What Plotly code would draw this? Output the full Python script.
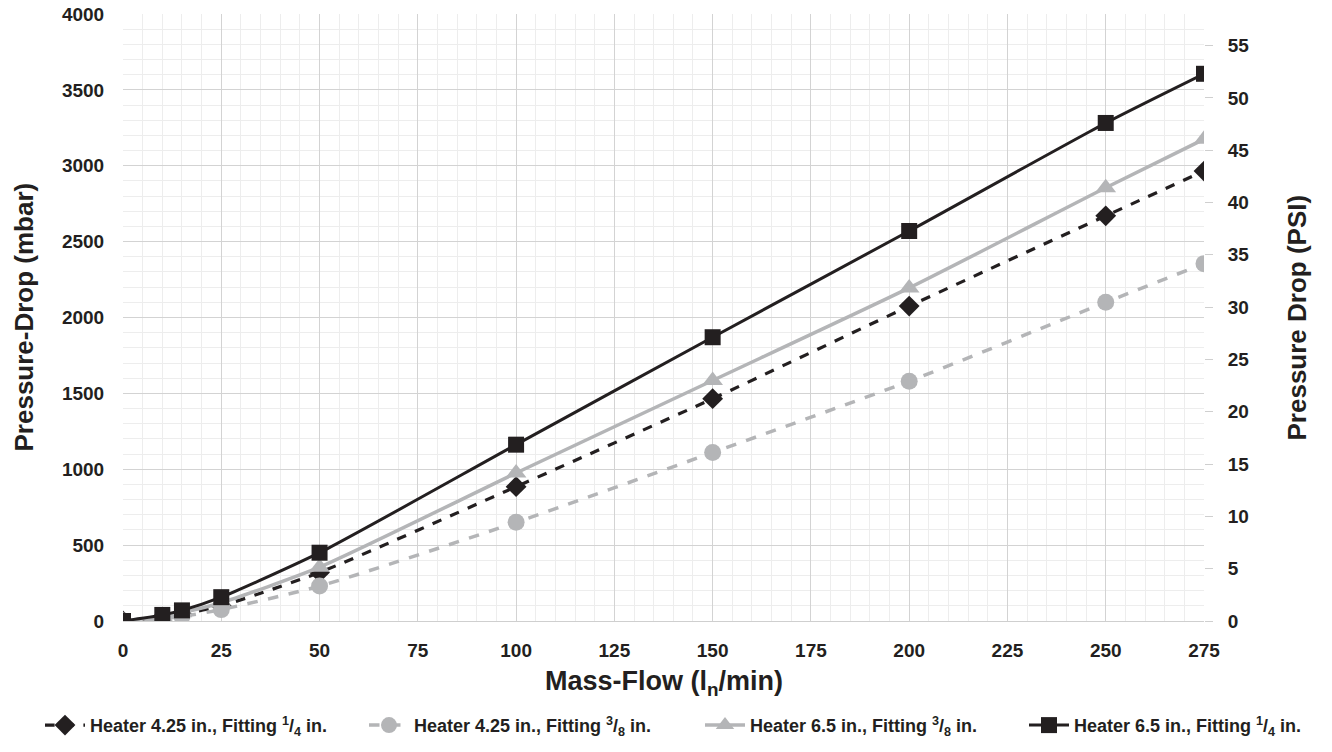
import plotly.graph_objects as go

mass_flow = [0, 10, 15, 25, 50, 100, 150, 200, 250, 275]
h425_f14 = [0, 25, 45, 100, 320, 885, 1465, 2075, 2670, 2965]
h425_f38 = [0, 15, 30, 75, 230, 650, 1110, 1580, 2100, 2355]
h65_f38 = [0, 30, 55, 120, 355, 975, 1585, 2195, 2855, 3175]
h65_f14 = [0, 40, 70, 157, 450, 1162, 1870, 2570, 3282, 3606]

names = [
    "Heater 4.25 in., Fitting <sup>1</sup>/<sub>4</sub> in.",
    "Heater 4.25 in., Fitting <sup>3</sup>/<sub>8</sub> in.",
    "Heater 6.5 in., Fitting <sup>3</sup>/<sub>8</sub> in.",
    "Heater 6.5 in., Fitting <sup>1</sup>/<sub>4</sub> in.",
]

BLACK = "#231f20"
GREY = "#b4b5b7"
MBAR_PER_PSI = 68.9476
FONT = "Liberation Sans, Arial, sans-serif"

fig = go.Figure()
fig.add_trace(go.Scatter(x=mass_flow, y=h425_f14, name=names[0], mode="lines+markers", legend="legend",
                         line=dict(color=BLACK, width=3.2, dash="dash", shape="spline", smoothing=0.6),
                         marker=dict(symbol="diamond", size=16, color=BLACK)))
fig.add_trace(go.Scatter(x=mass_flow, y=h425_f38, name=names[1], mode="lines+markers", legend="legend2",
                         line=dict(color=GREY, width=3.5, dash="dash", shape="spline", smoothing=0.6),
                         marker=dict(symbol="circle", size=17, color=GREY)))
fig.add_trace(go.Scatter(x=mass_flow, y=h65_f38, name=names[2], mode="lines+markers", legend="legend3",
                         line=dict(color=GREY, width=3.5, shape="spline", smoothing=0.6),
                         marker=dict(symbol="triangle-up", size=18, color=GREY)))
fig.add_trace(go.Scatter(x=mass_flow, y=h65_f14, name=names[3], mode="lines+markers", legend="legend4",
                         line=dict(color=BLACK, width=3, shape="spline", smoothing=0.6),
                         marker=dict(symbol="square", size=16, color=BLACK)))
# invisible trace to activate the right axis
fig.add_trace(go.Scatter(x=[0], y=[0], yaxis="y2", showlegend=False, hoverinfo="skip",
                         mode="markers", marker=dict(opacity=0)))

legend_font = dict(size=18, family=FONT, color=BLACK, weight="bold")
legend_x_px = [40, 364, 700, 1024]


def legend_at(px):
    return dict(orientation="h", x=px / 1332, xanchor="left", xref="container",
                y=-0.172, yanchor="middle", font=legend_font, itemwidth=40,
                bgcolor="rgba(0,0,0,0)")


title_font = dict(size=26, family=FONT, color=BLACK, weight="bold")

fig.update_layout(
    width=1332, height=752,
    margin=dict(l=123, r=128, t=14, b=131, autoexpand=False),
    paper_bgcolor="white", plot_bgcolor="white",
    font=dict(family=FONT, color=BLACK),
    showlegend=True,
    legend=legend_at(legend_x_px[0]),
    legend2=legend_at(legend_x_px[1]),
    legend3=legend_at(legend_x_px[2]),
    legend4=legend_at(legend_x_px[3]),
    xaxis=dict(
        range=[0, 275], dtick=25, tick0=0,
        showgrid=True, gridcolor="#d3d3d3", gridwidth=1,
        minor=dict(dtick=5, showgrid=True, gridcolor="#ededed", gridwidth=1),
        zeroline=False, showline=True, linecolor="#cfcfcf", linewidth=1,
        ticks="outside", ticklen=12, tickcolor="rgba(0,0,0,0)",
        tickfont=dict(size=19, weight="bold"), ticklabeloverflow="allow",
    ),
    yaxis=dict(
        range=[0, 4000], dtick=500, tick0=0,
        showgrid=True, gridcolor="#d3d3d3", gridwidth=1,
        minor=dict(dtick=100, showgrid=True, gridcolor="#ededed", gridwidth=1),
        zeroline=False, showline=False,
        ticks="outside", ticklen=14, tickcolor="rgba(0,0,0,0)",
        tickfont=dict(size=19, weight="bold"), ticklabeloverflow="allow",
    ),
    yaxis2=dict(
        overlaying="y", side="right",
        range=[0, 4000 / MBAR_PER_PSI], dtick=5, tick0=0,
        showgrid=False, zeroline=False, showline=False,
        ticks="outside", ticklen=8, tickcolor="#cfcfcf", ticklabelstandoff=11,
        tickfont=dict(size=19, weight="bold"), ticklabeloverflow="allow",
    ),
    annotations=[
        dict(text="Pressure Drop (PSI)", textangle=-90,
             xref="paper", yref="paper", x=1, y=0.5, xshift=92,
             xanchor="center", yanchor="middle", showarrow=False, font=title_font),
        dict(text="Pressure-Drop (mbar)", textangle=-90,
             xref="paper", yref="paper", x=0, y=0.5, xshift=-100,
             xanchor="center", yanchor="middle", showarrow=False, font=title_font),
        dict(text="Mass-Flow (l<sub>n</sub>/min)",
             xref="paper", yref="paper", x=0.5, y=0, yshift=-62,
             xanchor="center", yanchor="middle", showarrow=False,
             font=dict(size=27, family=FONT, color=BLACK, weight="bold")),
    ],
)

fig.write_html("out.html", post_script="document.body.style.margin='0';",
               config={"displayModeBar": False})
